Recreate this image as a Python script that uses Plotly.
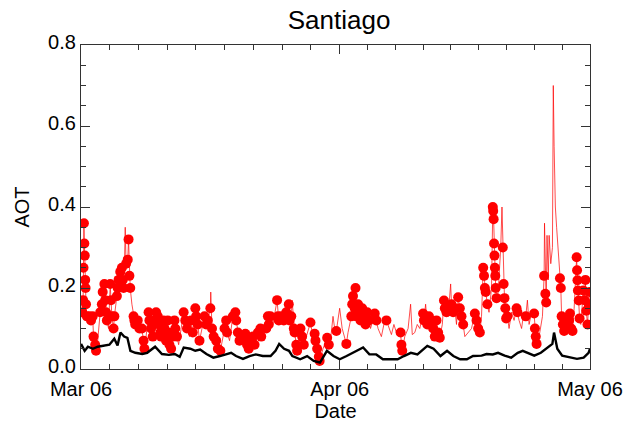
import pandas as pd
import plotly.graph_objects as go

# ---- data (days since 2006-03-01 00:00); red_dot = 1 where a filled dot is drawn ----
red_day = [0.15,0.25,0.3,0.35,0.4,0.45,0.5,0.55,0.6,0.7,1.0,1.2,1.4,1.5,1.7,1.8,2.0,
           2.3,2.5,2.6,2.8,2.9,3.0,3.1,3.3,3.5,3.6,3.7,3.9,4.0,4.3,4.4,4.5,4.7,4.9,5.0,5.1,5.2,5.3,5.4,5.6,5.7,5.8,5.9,6.1,
           6.3,6.4,6.5,6.8,7.0,7.3,7.5,7.6,7.8,8.1,8.2,8.4,8.6,8.8,9.0,9.2,9.3,9.5,9.6,9.9,10.0,10.2,10.4,10.5,10.6,10.8,
           11.0,11.2,11.3,11.5,11.7,12.0,12.3,12.5,12.7,13.0,13.2,13.4,13.7,13.8,14.0,14.2,14.5,14.8,15.0,15.2,15.5,15.55,15.7,15.9,16.2,16.4,16.7,17.0,
           17.2,17.4,17.5,17.8,18.2,18.5,18.6,18.8,19.0,19.5,19.7,19.9,20.1,20.3,20.6,20.8,21.0,21.2,21.5,21.6,21.9,22.2,22.4,22.5,22.7,23.0,
           23.5,23.6,23.7,24.0,24.3,24.6,24.9,25.0,25.2,25.3,25.5,25.6,25.8,25.9,26.3,26.5,26.7,27.0,27.5,27.7,
           28.0,28.1,28.3,28.5,28.6,29.0,29.5,29.7,30.0,30.2,30.4,30.6,30.8,31.0,31.3,31.8,32.0,
           32.4,32.5,32.6,32.8,32.9,33.0,33.2,33.3,33.5,33.7,33.9,34.1,34.3,34.5,34.7,35.2,35.4,35.6,36.0,36.3,36.6,
           36.9,37.2,37.5,37.8,38.1,38.3,38.4,38.5,38.8,39.2,39.5,39.7,40.0,40.3,40.6,41.0,41.1,41.3,41.5,41.7,41.9,
           42.2,42.4,42.6,42.8,43.0,43.3,43.5,43.6,43.8,44.0,44.3,44.4,44.6,44.8,45.0,45.2,45.4,45.6,45.8,46.0,46.4,46.8,
           47.2,47.4,47.6,47.8,48.0,48.2,48.3,48.4,48.5,48.7,48.9,49.2,49.35,49.4,49.45,49.5,49.55,49.6,49.65,49.7,49.8,
           50.0,50.3,50.45,50.55,50.65,50.75,50.85,50.95,51.1,51.3,51.6,51.9,52.2,52.3,52.5,52.8,53.0,53.3,53.5,53.7,54.0,
           54.3,54.4,54.5,54.6,54.9,55.3,55.5,55.55,55.65,55.75,55.85,56.0,56.1,56.3,56.5,56.6,56.7,56.85,57.0,57.2,
           57.4,57.5,57.6,57.75,57.9,58.1,58.3,58.5,58.6,58.75,58.9,59.1,59.4,59.45,59.5,59.55,59.65,59.75,59.9,60.2,60.35,60.45,60.55,60.7,60.85,60.95]
red_aot = [0.14,0.17,0.25,0.36,0.31,0.28,0.22,0.20,0.16,0.13,0.13,0.12,0.13,0.08,0.06,0.045,0.07,
           0.14,0.16,0.19,0.21,0.17,0.14,0.12,0.10,0.21,0.17,0.13,0.10,0.13,0.18,0.20,0.22,0.24,0.25,0.22,0.20,0.25,0.35,0.26,0.27,0.32,0.23,0.20,0.16,
           0.13,0.12,0.11,0.12,0.10,0.10,0.07,0.05,0.08,0.14,0.12,0.10,0.08,0.12,0.14,0.13,0.11,0.09,0.08,0.12,0.10,0.07,0.12,0.09,0.06,0.05,
           0.08,0.12,0.10,0.08,0.06,0.10,0.14,0.12,0.10,0.08,0.12,0.09,0.15,0.13,0.11,0.07,0.10,0.13,0.11,0.12,0.15,0.19,0.10,0.08,0.07,0.05,0.045,0.08,
           0.10,0.12,0.09,0.07,0.13,0.14,0.12,0.09,0.07,0.08,0.087,0.06,0.05,0.07,0.08,0.06,0.07,0.09,0.10,0.08,0.09,0.10,0.13,0.11,0.13,0.11,
           0.17,0.13,0.12,0.13,0.12,0.14,0.16,0.12,0.13,0.17,0.10,0.09,0.06,0.045,0.10,0.08,0.06,0.08,0.115,0.09,
           0.087,0.07,0.05,0.03,0.02,0.05,0.077,0.06,0.09,0.13,0.10,0.094,0.12,0.15,0.10,0.062,0.09,
           0.13,0.16,0.18,0.15,0.20,0.13,0.16,0.14,0.12,0.15,0.13,0.11,0.14,0.12,0.10,0.137,0.12,0.10,0.08,0.11,0.12,
           0.10,0.085,0.11,0.09,0.08,0.09,0.06,0.045,0.08,0.10,0.16,0.085,0.09,0.11,0.10,0.137,0.12,0.16,0.11,0.13,0.12,
           0.10,0.08,0.12,0.09,0.077,0.11,0.169,0.15,0.14,0.13,0.21,0.16,0.14,0.15,0.11,0.177,0.15,0.13,0.11,0.08,0.09,0.10,
           0.137,0.12,0.10,0.09,0.13,0.25,0.23,0.20,0.19,0.16,0.14,0.20,0.40,0.39,0.37,0.31,0.28,0.25,0.23,0.20,0.175,
           0.19,0.30,0.40,0.30,0.21,0.175,0.15,0.125,0.13,0.10,0.14,0.12,0.15,0.14,0.12,0.10,0.13,0.13,0.17,0.11,0.14,
           0.137,0.10,0.08,0.062,0.08,0.13,0.23,0.36,0.186,0.164,0.33,0.22,0.33,0.26,0.30,0.70,0.55,0.40,0.35,0.28,
           0.224,0.20,0.13,0.11,0.094,0.10,0.13,0.12,0.137,0.10,0.094,0.15,0.276,0.244,0.219,0.194,0.169,0.125,0.11,0.194,0.17,0.22,0.144,0.11,0.16,0.19]
red_dot = [1,1,1,1,1,1,1,1,1,1,1,1,1,1,1,1,0,
           1,1,1,1,1,1,1,0,1,1,1,1,1,1,1,1,1,1,1,1,0,0,1,1,1,1,1,0,
           1,1,1,1,1,1,1,1,0,1,1,1,1,1,1,1,1,1,1,1,1,1,1,1,1,1,
           1,1,1,1,0,0,1,1,1,0,1,1,1,1,1,1,0,1,1,1,1,0,1,1,1,1,1,0,
           1,1,1,0,1,1,1,1,1,1,1,1,1,1,1,1,0,1,1,1,0,1,1,1,1,0,
           1,1,1,1,1,1,1,1,1,0,1,1,1,1,1,1,1,0,1,0,
           1,1,1,1,1,0,1,1,0,0,0,1,0,0,0,1,0,
           1,1,1,1,1,1,1,1,1,1,1,1,1,1,0,1,1,0,0,0,1,
           0,0,0,0,0,1,1,1,0,0,0,0,0,0,0,1,1,0,1,1,1,
           1,1,1,1,1,0,1,1,1,0,0,1,1,1,0,1,1,1,1,0,0,0,
           1,1,1,1,0,1,1,1,1,1,0,0,1,1,1,1,1,1,1,1,1,
           0,0,0,1,1,1,1,1,1,0,0,0,1,1,0,0,0,1,0,0,0,
           1,1,1,1,0,0,1,0,1,1,0,0,0,0,0,0,0,0,0,0,
           1,1,1,1,1,1,0,1,1,1,1,0,1,1,1,1,1,1,0,1,1,1,1,1,1,1]
assert len(red_day) == len(red_aot) == len(red_dot)

black_day = [0.0,0.44,0.83,1.42,2.01,2.80,3.40,3.99,4.38,4.73,5.17,5.56,5.92,6.51,7.34,7.93,8.88,9.70,10.53,11.24,
             11.83,12.31,13.10,13.69,14.28,15.03,15.86,16.65,17.40,17.99,18.58,19.41,20.20,20.95,21.78,22.72,23.31,
             23.75,24.34,24.93,25.33,26.27,27.10,27.89,28.64,29.47,30.26,31.01,31.83,32.63,33.81,34.56,35.38,36.18,
             36.92,37.95,38.70,39.53,40.32,41.07,41.50,42.25,43.08,43.87,44.62,45.44,46.24,46.98,48.01,48.60,49.35,
             49.98,50.77,51.56,52.34,52.94,53.53,54.32,55.11,55.89,56.49,56.69,57.08,57.67,58.66,59.44,60.24,60.83,61.0]
black_aot = [0.062,0.045,0.055,0.05,0.055,0.058,0.06,0.075,0.058,0.09,0.08,0.077,0.045,0.04,0.037,0.04,0.055,0.037,0.035,0.037,
             0.03,0.053,0.05,0.045,0.048,0.037,0.028,0.032,0.036,0.04,0.032,0.025,0.032,0.036,0.032,0.032,0.045,
             0.062,0.05,0.045,0.032,0.024,0.032,0.02,0.016,0.045,0.032,0.024,0.032,0.04,0.053,0.036,0.036,0.024,
             0.024,0.024,0.032,0.04,0.036,0.05,0.057,0.05,0.032,0.045,0.032,0.024,0.024,0.032,0.033,0.037,0.036,
             0.04,0.033,0.028,0.04,0.045,0.04,0.033,0.04,0.053,0.062,0.09,0.05,0.033,0.028,0.025,0.028,0.04,0.05]

tick_dates = ["2006-03-01", "2006-04-01", "2006-05-01"]
tick_text = ["Mar 06", "Apr 06", "May 06"]

t0 = pd.Timestamp("2006-03-01")
red_t = t0 + pd.to_timedelta(red_day, unit="D")
black_t = t0 + pd.to_timedelta(black_day, unit="D")
dot_t = [t for t, d in zip(red_t, red_dot) if d]
dot_v = [v for v, d in zip(red_aot, red_dot) if d]

# minor ticks: 9 intervals per month
minor_x = []
for a, b in [("2006-03-01", "2006-04-01"), ("2006-04-01", "2006-05-01")]:
    ta, tb = pd.Timestamp(a), pd.Timestamp(b)
    for k in range(1, 9):
        minor_x.append(ta + (tb - ta) * k / 9)

FONT = "Liberation Sans, Arial, Helvetica, sans-serif"

fig = go.Figure()
fig.add_trace(go.Scatter(x=red_t, y=red_aot, mode="lines",
                         line=dict(color="rgba(255,0,0,0.7)", width=1), hoverinfo="skip"))
fig.add_trace(go.Scatter(x=dot_t, y=dot_v, mode="markers",
                         marker=dict(color="#ff0000", size=10, line=dict(width=0))))
fig.add_trace(go.Scatter(x=black_t, y=black_aot, mode="lines",
                         line=dict(color="black", width=2.4)))

fig.update_layout(
    width=635, height=427,
    margin=dict(l=81, r=38, t=45, b=57),
    paper_bgcolor="white", plot_bgcolor="white",
    showlegend=False,
    font=dict(family=FONT, size=20, color="black"),
    title=dict(text="Santiago", x=0.534, xanchor="center", y=0.953, yanchor="middle",
               font=dict(size=26, family=FONT, color="black")),
)
fig.update_xaxes(
    range=["2006-03-01", "2006-05-01"],
    tickmode="array", tickvals=tick_dates, ticktext=tick_text,
    ticks="inside", ticklen=9, tickwidth=1, tickcolor="#333",
    minor=dict(tickmode="array", tickvals=minor_x, ticks="inside", ticklen=5, tickcolor="#333"),
    showline=True, linecolor="#333", linewidth=1.2, mirror="ticks",
    showgrid=False, zeroline=False, ticklabelstandoff=2,
    title=dict(text="Date", standoff=1, font=dict(size=20)),
    tickfont=dict(size=20),
)
fig.update_yaxes(
    range=[0, 0.8], dtick=0.2, tick0=0, tickformat=".1f",
    ticks="inside", ticklen=9, tickwidth=1, tickcolor="#333",
    minor=dict(dtick=0.05, ticks="inside", ticklen=5, tickcolor="#333"),
    showline=True, linecolor="#333", linewidth=1.2, mirror="ticks",
    showgrid=False, zeroline=False, ticklabelshift=-3,
    title=dict(text="AOT", standoff=13, font=dict(size=20)),
    tickfont=dict(size=20),
)

fig.write_html("out.html")
